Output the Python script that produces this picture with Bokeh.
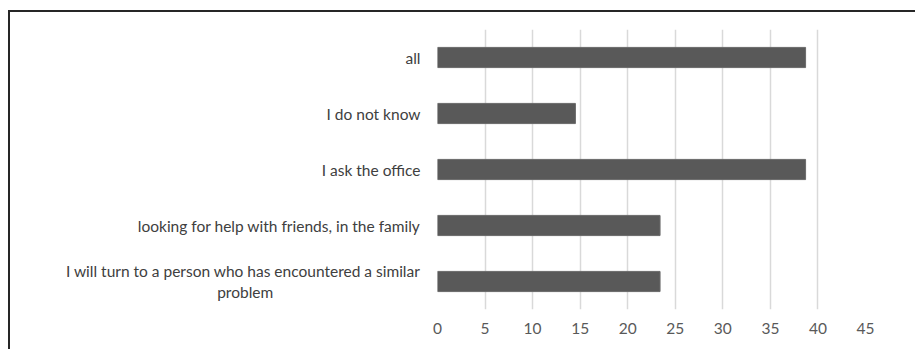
from bokeh.plotting import figure
from bokeh.embed import file_html
from bokeh.resources import INLINE
from bokeh.models import FixedTicker, InlineStyleSheet, Range1d

categories = [
    "I will turn to a person who has encountered a similar\nproblem",
    "looking for help with friends, in the family",
    "I ask the office",
    "I do not know",
    "all",
]
values = [23.4, 23.4, 38.7, 14.5, 38.7]
x_ticks = [0, 5, 10, 15, 20, 25, 30, 35, 40, 45]

FONT = "Lato"
FS = "15.5px"

# second line of the wrapped label is centred under the first: pad it with
# en spaces (fixed 0.5em width) so that the right-aligned axis label centres it
EN = "\u2002"
factors = [c + EN * 19 if "\n" in c else c for c in categories]

p = figure(
    width=915, height=349,
    y_range=factors,
    x_range=Range1d(0, 45),
    output_backend="svg", toolbar_location=None,
    min_border_left=437, min_border_right=50,
    min_border_top=29, min_border_bottom=40,
)
p.hbar(y=factors, right=values, height=0.36, left=0,
       fill_color="#595959", line_color="#6a6a6a", line_width=1)

p.outline_line_color = None
p.ygrid.grid_line_color = None
p.xgrid.grid_line_color = "#d9d9d9"
p.xgrid.grid_line_width = 1.5
p.xaxis.ticker = FixedTicker(ticks=x_ticks)
p.xaxis.axis_line_color = None
p.xaxis.major_tick_line_color = None
p.xaxis.minor_tick_line_color = None
p.xaxis.major_tick_out = 0
p.xaxis.major_tick_in = 0
p.xaxis.major_label_standoff = 13
p.xaxis.major_label_text_font = FONT
p.xaxis.major_label_text_font_size = FS
p.xaxis.major_label_text_color = "#595959"

p.yaxis.axis_line_color = None
p.yaxis.major_tick_line_color = None
p.yaxis.minor_tick_line_color = None
p.yaxis.major_tick_out = 0
p.yaxis.major_tick_in = 0
p.yaxis.major_label_standoff = 17
p.yaxis.major_label_text_font = FONT
p.yaxis.major_label_text_font_size = FS
p.yaxis.major_label_text_color = "#404040"
p.yaxis.major_label_text_line_height = 1.15

p.stylesheets = [InlineStyleSheet(css="""
:host { position: relative; }
:host::after {
  content: ''; position: absolute; left: 8px; top: 10px; right: -10px; bottom: -10px;
  border-top: 2px solid #262626; border-left: 2px solid #262626; pointer-events: none;
}
""")]

open("out.html", "w").write(file_html(p, INLINE))
